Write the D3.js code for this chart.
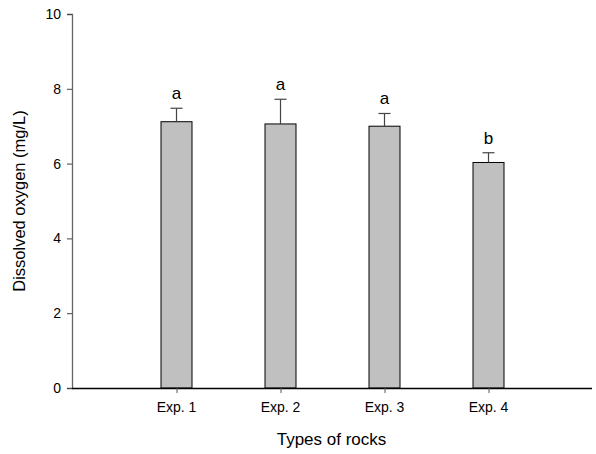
<!DOCTYPE html>
<html>
<head>
<meta charset="utf-8">
<script src="https://cdn.jsdelivr.net/npm/d3@7"></script>
<style>
  body { margin: 0; background: #fff; }
  svg text { font-family: "Liberation Sans", Arial, sans-serif; fill: #000; }
</style>
</head>
<body>
<svg id="chart" width="596" height="454"></svg>
<script>
// Dissolved oxygen by rock type: mean, standard deviation, and group letters
const categories = ["Exp. 1", "Exp. 2", "Exp. 3", "Exp. 4"];
const means = [7.12, 7.06, 7.0, 6.03];
const errors = [0.36, 0.66, 0.34, 0.26];
const groupLetters = ["a", "a", "a", "b"];
const yTicks = [0, 2, 4, 6, 8, 10];

const svg = d3.select("#chart");
const plotLeft = 72, plotRight = 592, plotTop = 14, plotBottom = 388;

const x = d3.scalePoint().domain(categories).range([plotLeft, plotRight]).padding(1);
const y = d3.scaleLinear().domain([0, 10]).range([plotBottom, plotTop]);

const barW = 31;
const data = categories.map((c, i) => ({ c, m: means[i], e: errors[i], l: groupLetters[i] }));

// Bars
svg.append("g").selectAll("rect").data(data).join("rect")
  .attr("x", d => x(d.c) - barW / 2 + 0.5)
  .attr("y", d => y(d.m))
  .attr("width", barW)
  .attr("height", d => y(0) - y(d.m))
  .attr("fill", "#c0c0c0")
  .attr("stroke", "#000")
  .attr("stroke-width", 1);

// Upper error bars with caps
const eb = svg.append("g").attr("stroke", "#444").attr("stroke-width", 1.2);
eb.selectAll("line.v").data(data).join("line").attr("class", "v")
  .attr("x1", d => x(d.c) + 0.5).attr("x2", d => x(d.c) + 0.5)
  .attr("y1", d => y(d.m)).attr("y2", d => y(d.m + d.e));
eb.selectAll("line.cap").data(data).join("line").attr("class", "cap")
  .attr("x1", d => x(d.c) - 5.5).attr("x2", d => x(d.c) + 6.5)
  .attr("y1", d => y(d.m + d.e)).attr("y2", d => y(d.m + d.e));

// Significance letters
svg.append("g").selectAll("text").data(data).join("text")
  .attr("x", d => x(d.c) + 0.5)
  .attr("y", d => y(d.m + d.e) - 9)
  .attr("text-anchor", "middle")
  .attr("font-size", 17)
  .text(d => d.l);

// Y axis
const yAxis = svg.append("g").attr("transform", `translate(${plotLeft},0)`)
  .call(d3.axisLeft(y).tickValues(yTicks).tickSize(5).tickPadding(6).tickFormat(d3.format("d")));
yAxis.select(".domain").attr("stroke", "#666").attr("stroke-width", 1.3);
yAxis.selectAll(".tick line").attr("stroke", "#444");
yAxis.selectAll("text").attr("font-size", 14).attr("font-family", "Liberation Sans, Arial, sans-serif").attr("fill", "#000");

// X axis
const xAxis = svg.append("g").attr("transform", `translate(0,${plotBottom})`)
  .call(d3.axisBottom(x).tickSize(5).tickPadding(9));
xAxis.select(".domain").attr("stroke", "#000").attr("stroke-width", 1.3)
  .attr("d", `M${plotLeft},0.5H${plotRight}`);
xAxis.selectAll(".tick line").attr("stroke", "#555").attr("transform", "translate(0.5,0)");
xAxis.selectAll("text").attr("font-size", 14).attr("font-family", "Liberation Sans, Arial, sans-serif").attr("fill", "#000");

// Axis titles
svg.append("text")
  .attr("transform", `translate(25,${(plotTop + plotBottom) / 2}) rotate(-90)`)
  .attr("text-anchor", "middle")
  .attr("font-size", 16.5)
  .text("Dissolved oxygen (mg/L)");
svg.append("text")
  .attr("x", 331.5).attr("y", 445)
  .attr("text-anchor", "middle")
  .attr("font-size", 17)
  .text("Types of rocks");
</script>
</body>
</html>
